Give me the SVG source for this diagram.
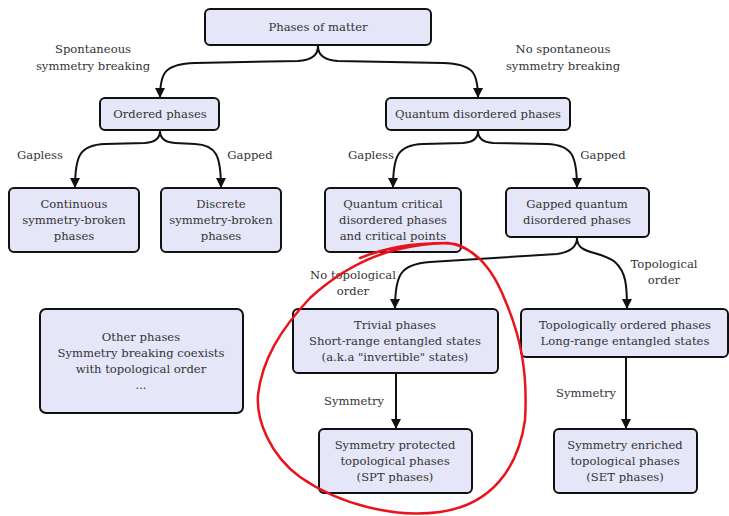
<svg xmlns="http://www.w3.org/2000/svg" width="729" height="516" viewBox="0 0 729 516">
<defs>
<style>
.node rect{fill:#e6e6f9;stroke:#111;stroke-width:2}
.node text,.lbl text{font-family:"DejaVu Serif","Liberation Serif",serif;font-size:11.6px;fill:#333;text-anchor:middle}
.edge{fill:none;stroke:#111;stroke-width:2;marker-end:url(#arr)}
</style>
<marker id="arr" markerUnits="userSpaceOnUse" markerWidth="10" markerHeight="12" refX="10" refY="5" orient="auto" viewBox="0 0 10 10">
<path d="M0,0 L10,5 L0,10 z" fill="#111"/>
</marker>
</defs>
<rect width="729" height="516" fill="#fff"/>
<g id="connectors">
<path class="edge" d="M318,46 Q318,60 298,61 L195,63 C165,64 160,72 160,98"/>
<path class="edge" d="M318,46 Q318,60 338,61 L443,63 C473,64 478,72 478,98"/>
<path class="edge" d="M160,131 Q160,142 145,143 L105,144 C80,145 75,155 75,188"/>
<path class="edge" d="M160,131 Q160,142 175,143 L195,144 C216,145 221,155 221,188"/>
<path class="edge" d="M478,131 Q478,142 463,143 L423,144 C398,145 393,155 393,188"/>
<path class="edge" d="M478,131 Q478,142 493,143 L547,144 C572,145 577,155 577,188"/>
<path class="edge" d="M577,238 Q577,251 557,254 L430,262 C400,264 395,275 395,309"/>
<path class="edge" d="M577,238 C577,255 600,250 615,262 C626,272 627,285 627,309"/>
<path class="edge" d="M396,374 L396,429"/>
<path class="edge" d="M626,358 L626,429"/>
</g>
<g class="lbl" id="edge-labels">
<text x="93" y="53">Spontaneous</text>
<text x="93" y="70">symmetry breaking</text>
<text x="563" y="53">No spontaneous</text>
<text x="563" y="70">symmetry breaking</text>
<text x="40" y="159">Gapless</text>
<text x="250" y="159">Gapped</text>
<text x="371" y="159">Gapless</text>
<text x="603" y="159">Gapped</text>
<text x="353" y="279">No topological</text>
<text x="353" y="295">order</text>
<text x="664" y="268">Topological</text>
<text x="664" y="284">order</text>
<text x="354" y="405">Symmetry</text>
<text x="586" y="397">Symmetry</text>
</g>
<g class="node" id="n-phases"><rect x="205" y="9" width="226" height="36" rx="5"/><text x="318" y="31">Phases of matter</text></g>
<g class="node" id="n-ordered"><rect x="100" y="98" width="119" height="32" rx="5"/><text x="160" y="118">Ordered phases</text></g>
<g class="node" id="n-qd"><rect x="386" y="98" width="184" height="32" rx="5"/><text x="478" y="118">Quantum disordered phases</text></g>
<g class="node" id="n-cont"><rect x="9" y="188" width="130" height="64" rx="5"/><text x="74" y="208">Continuous</text><text x="74" y="224">symmetry-broken</text><text x="74" y="240">phases</text></g>
<g class="node" id="n-disc"><rect x="161" y="188" width="120" height="64" rx="5"/><text x="221" y="208">Discrete</text><text x="221" y="224">symmetry-broken</text><text x="221" y="240">phases</text></g>
<g class="node" id="n-qc"><rect x="325" y="188" width="136" height="64" rx="5"/><text x="393" y="208">Quantum critical</text><text x="393" y="224">disordered phases</text><text x="393" y="240">and critical points</text></g>
<g class="node" id="n-gqd"><rect x="506" y="188" width="143" height="49" rx="5"/><text x="577" y="208">Gapped quantum</text><text x="577" y="224">disordered phases</text></g>
<g class="node" id="n-other"><rect x="40" y="309" width="203" height="104" rx="6"/><text x="141" y="341">Other phases</text><text x="141" y="357">Symmetry breaking coexists</text><text x="141" y="373">with topological order</text><text x="141" y="389">...</text></g>
<g class="node" id="n-trivial"><rect x="293" y="309" width="205" height="64" rx="5"/><text x="395" y="329">Trivial phases</text><text x="395" y="345">Short-range entangled states</text><text x="395" y="361">(a.k.a "invertible" states)</text></g>
<g class="node" id="n-topo"><rect x="521" y="309" width="207" height="48" rx="5"/><text x="625" y="329">Topologically ordered phases</text><text x="625" y="345">Long-range entangled states</text></g>
<g class="node" id="n-spt"><rect x="319" y="429" width="153" height="64" rx="5"/><text x="395" y="449">Symmetry protected</text><text x="395" y="465">topological phases</text><text x="395" y="481">(SPT phases)</text></g>
<g class="node" id="n-set"><rect x="554" y="429" width="143" height="64" rx="5"/><text x="625" y="449">Symmetry enriched</text><text x="625" y="465">topological phases</text><text x="625" y="481">(SET phases)</text></g>
<path id="red-circle" d="M360,258 C385,248 410,243 448,243 C470,246 490,262 505,300 C520,335 528,370 525,420 C518,470 490,505 440,512 C395,518 340,505 300,477 C270,455 256,420 258,395 C262,360 280,330 310,298 C335,275 365,258 395,250 C420,244 440,242 455,244 C465,247 472,252 478,258" fill="none" stroke="#e8141c" stroke-width="2.5" stroke-linecap="round"/>
</svg>
